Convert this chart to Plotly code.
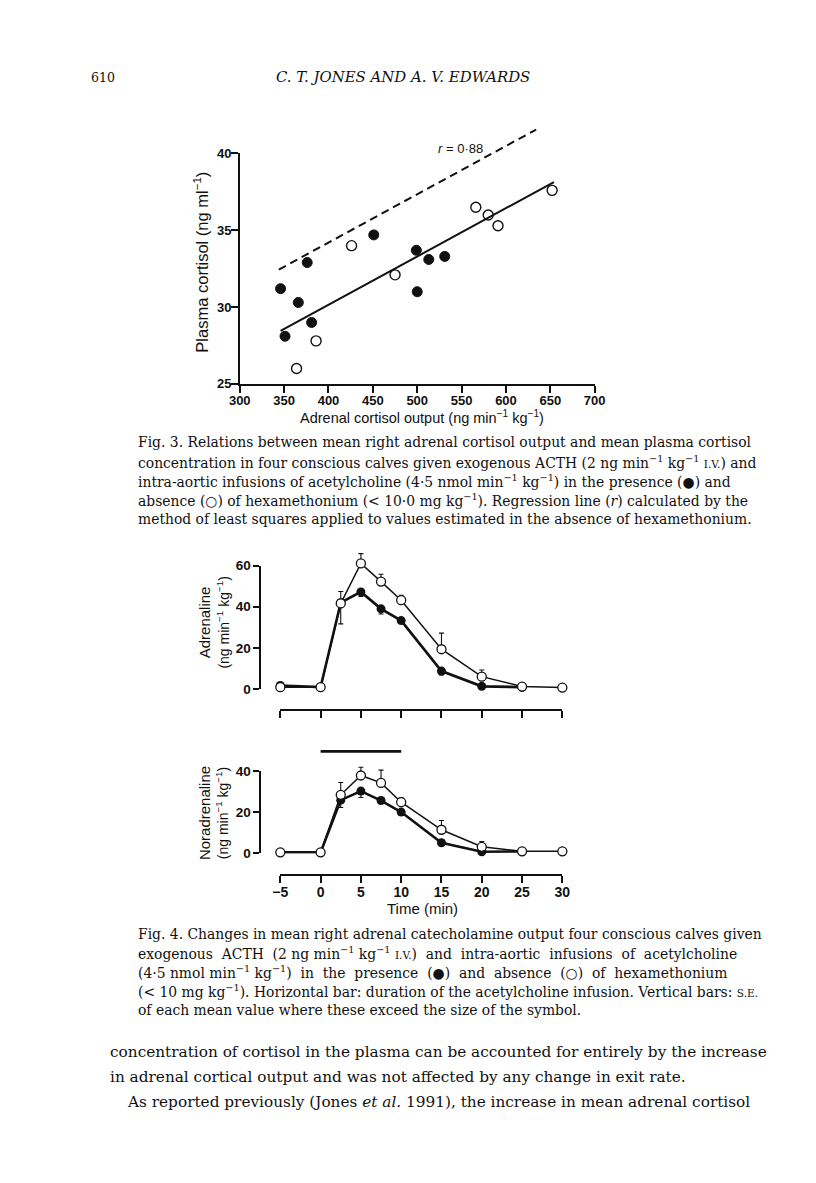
import plotly.graph_objects as go

PAGE_W, PAGE_H = 816, 1183
BODY_MARGIN = 8
W, H = PAGE_W - 2 * BODY_MARGIN, PAGE_H - 2 * BODY_MARGIN


def fx(p):
    return (p - BODY_MARGIN) / W


def fy(p):
    return 1 - (p - BODY_MARGIN) / H


# ---------------- Fig. 3 data ----------------
cortisol_output_hex = [346, 351, 366, 376, 381, 451, 499, 500, 513, 531]
plasma_cortisol_hex = [31.2, 28.1, 30.3, 32.9, 29.0, 34.7, 33.7, 31.0, 33.1, 33.3]
cortisol_output_nohex = [364, 386, 426, 475, 566, 580, 591, 652]
plasma_cortisol_nohex = [26.0, 27.8, 34.0, 32.1, 36.5, 36.0, 35.3, 37.6]
regression_x = [346, 654]
regression_y = [28.45, 38.14]
dashed_x = [344, 634]
dashed_y = [32.44, 41.56]
fig3_xticks = [300, 350, 400, 450, 500, 550, 600, 650, 700]
fig3_yticks = [25, 30, 35, 40]

# ---------------- Fig. 4 data ----------------
time_open = [-5, 0, 2.5, 5, 7.5, 10, 15, 20, 25, 30]
time_filled = [-5, 0, 2.5, 5, 7.5, 10, 15, 20, 25]
adrenaline_open = [1.0, 1.0, 41.6, 61.0, 52.2, 43.2, 19.4, 6.1, 1.3, 0.8]
adrenaline_open_se = [0, 0, 5.8, 4.8, 3.6, 2.4, 7.8, 3.2, 0, 0]
adrenaline_filled = [1.8, 1.0, 42.0, 47.2, 39.0, 33.3, 8.8, 1.4, 1.0]
adrenaline_filled_se = [0, 0, 10.3, 2.2, 2.5, 0, 1.9, 0, 0]
noradrenaline_open = [0.5, 0.5, 28.5, 37.9, 34.3, 24.9, 11.5, 3.2, 1.0, 1.0]
noradrenaline_open_se = [0, 0, 6.0, 4.0, 6.2, 2.1, 4.5, 2.6, 0, 0]
noradrenaline_filled = [0.5, 0.5, 25.9, 30.3, 25.7, 20.1, 5.2, 0.8, 1.0]
noradrenaline_filled_se = [0, 0, 3.6, 3.1, 0, 0, 1.3, 0, 0]
infusion_time = [0, 10]
fig4_xticks = [-5, 0, 5, 10, 15, 20, 25, 30]
fig4_xticklabels = ["\u22125", "0", "5", "10", "15", "20", "25", "30"]
adrenaline_yticks = [0, 20, 40, 60]
noradrenaline_yticks = [0, 20, 40]

SANS = "Liberation Sans"
SERIF = "DejaVu Serif"
BLACK = "#111111"

fig = go.Figure()

# Fig. 3 traces
fig.add_trace(go.Scatter(x=cortisol_output_hex, y=plasma_cortisol_hex, mode="markers",
                         marker=dict(size=10, color=BLACK, line=dict(width=1, color=BLACK)),
                         xaxis="x", yaxis="y", cliponaxis=False, showlegend=False))
fig.add_trace(go.Scatter(x=cortisol_output_nohex, y=plasma_cortisol_nohex, mode="markers",
                         marker=dict(size=10, color="white", line=dict(width=1.4, color=BLACK)),
                         xaxis="x", yaxis="y", cliponaxis=False, showlegend=False))
fig.add_trace(go.Scatter(x=regression_x, y=regression_y, mode="lines",
                         line=dict(width=2, color=BLACK), xaxis="x", yaxis="y", showlegend=False))
fig.add_trace(go.Scatter(x=dashed_x, y=dashed_y, mode="lines",
                         line=dict(width=2, color=BLACK, dash="8px,5px"),
                         xaxis="x2", yaxis="y2", showlegend=False))


def err(plus, minus):
    return dict(type="data", symmetric=False, array=plus, arrayminus=minus,
                width=2.5, thickness=1.1, color=BLACK)


zeros_f = [0] * len(time_filled)
zeros_o = [0] * len(time_open)

# empty traces so the visible Fig. 4 axes are drawn
fig.add_trace(go.Scatter(x=[], y=[], xaxis="x3", yaxis="y3", showlegend=False))
fig.add_trace(go.Scatter(x=[], y=[], xaxis="x4", yaxis="y4", showlegend=False))

# Fig. 4 top (adrenaline) on invisible axes with head-room above 60
fig.add_trace(go.Scatter(x=time_filled, y=adrenaline_filled, mode="lines+markers",
                         line=dict(width=2.6, color=BLACK),
                         marker=dict(size=9, color=BLACK),
                         error_y=err(zeros_f, adrenaline_filled_se),
                         xaxis="x6", yaxis="y6", cliponaxis=False, showlegend=False))
fig.add_trace(go.Scatter(x=time_open, y=adrenaline_open, mode="lines+markers",
                         line=dict(width=1.5, color=BLACK),
                         marker=dict(size=9, color="white", line=dict(width=1.3, color=BLACK)),
                         error_y=err(adrenaline_open_se, zeros_o),
                         xaxis="x6", yaxis="y6", cliponaxis=False, showlegend=False))

# Fig. 4 bottom (noradrenaline) on invisible axes with head-room above 40
fig.add_trace(go.Scatter(x=time_filled, y=noradrenaline_filled, mode="lines+markers",
                         line=dict(width=2.6, color=BLACK),
                         marker=dict(size=9, color=BLACK),
                         error_y=err(zeros_f, noradrenaline_filled_se),
                         xaxis="x5", yaxis="y5", cliponaxis=False, showlegend=False))
fig.add_trace(go.Scatter(x=time_open, y=noradrenaline_open, mode="lines+markers",
                         line=dict(width=1.5, color=BLACK),
                         marker=dict(size=9, color="white", line=dict(width=1.3, color=BLACK)),
                         error_y=err(noradrenaline_open_se, zeros_o),
                         xaxis="x5", yaxis="y5", cliponaxis=False, showlegend=False))

# infusion bar
BAR_LEVEL = 49.6
fig.add_trace(go.Scatter(x=infusion_time, y=[BAR_LEVEL, BAR_LEVEL], mode="lines",
                         line=dict(width=2.6, color=BLACK),
                         xaxis="x5", yaxis="y5", showlegend=False))


def axis_common(size):
    return dict(showgrid=False, zeroline=False, showline=True, linecolor=BLACK,
                linewidth=1.5, ticks="outside", tickcolor=BLACK, tickwidth=1.5,
                tickfont=dict(family=SANS, size=size, color=BLACK, weight="bold"))


# Fig 3 geometry
f3_left, f3_right = 235, 600
f3_bottom, f3_top40 = 381.7, 148.3
px_per_unit3 = (f3_bottom - f3_top40) / 15.0
f3_top_ext = f3_bottom - 17.5 * px_per_unit3

# Fig 4 geometry
f4_left, f4_right = 276.7, 566.7
adr_bottom, adr_top = 691.0, 565.7
adr_ppu = (adr_bottom - adr_top) / 60.0
nor_bottom, nor_top = 857.3, 774.0
nor_ppu = (nor_bottom - nor_top) / 40.0
y_axis4_x = 256

fig.update_layout(
    width=W, height=H, autosize=False,
    margin=dict(l=0, r=0, t=0, b=0, pad=0),
    paper_bgcolor="white", plot_bgcolor="rgba(0,0,0,0)",
    showlegend=False,
    xaxis=dict(axis_common(13), domain=[fx(f3_left), fx(f3_right)], range=[300, 700],
               tickvals=fig3_xticks, ticklen=7, anchor="y", ticklabelstandoff=-3),
    yaxis=dict(axis_common(13), domain=[fy(f3_bottom), fy(f3_top40)], range=[25, 40],
               tickvals=fig3_yticks, ticklen=7, anchor="x", ticklabelstandoff=-3),
    xaxis2=dict(visible=False, domain=[fx(f3_left), fx(f3_right)], range=[300, 700], anchor="y2"),
    yaxis2=dict(visible=False, domain=[fy(f3_bottom), fy(f3_top_ext)], range=[25, 42.5], anchor="x2"),
    xaxis3=dict(axis_common(14), domain=[fx(f4_left), fx(f4_right)], range=[-5, 30],
                tickvals=fig4_xticks, showticklabels=False, ticklen=7,
                anchor="free", position=fy(712.5)),
    yaxis3=dict(axis_common(13.5), domain=[fy(adr_bottom), fy(adr_top)], range=[0, 60],
                tickvals=adrenaline_yticks, ticklen=6, anchor="free", position=fx(y_axis4_x)),
    xaxis4=dict(axis_common(14), domain=[fx(f4_left), fx(f4_right)], range=[-5, 30],
                tickvals=fig4_xticks, ticktext=fig4_xticklabels, ticklen=7,
                anchor="free", position=fy(879.3), ticklabelstandoff=-3),
    yaxis4=dict(axis_common(13.5), domain=[fy(nor_bottom), fy(nor_top)], range=[0, 40],
                tickvals=noradrenaline_yticks, ticklen=6, anchor="free", position=fx(y_axis4_x)),
    xaxis5=dict(visible=False, domain=[fx(f4_left), fx(f4_right)], range=[-5, 30], anchor="y5"),
    yaxis5=dict(visible=False, domain=[fy(nor_bottom), fy(nor_bottom - 52 * nor_ppu)],
                range=[0, 52], anchor="x5"),
    xaxis6=dict(visible=False, domain=[fx(f4_left), fx(f4_right)], range=[-5, 30], anchor="y6"),
    yaxis6=dict(visible=False, domain=[fy(adr_bottom), fy(adr_bottom - 70 * adr_ppu)],
                range=[0, 70], anchor="x6"),
)

ann = []


def text(x, y, s, size, family=SERIF, xanchor="left", angle=0, color=BLACK, weight="normal"):
    ann.append(dict(x=fx(x), y=fy(y), xref="paper", yref="paper", text=s, showarrow=False,
                    xanchor=xanchor, yanchor="middle", textangle=angle,
                    font=dict(family=family, size=size, color=color, weight=weight)))


SUP = "<sup>\u22121</sup>"
SC = '<span style="font-size:10.5px">'
BIG = '<span style="font-size:15px">'

# page header
text(80, 71, "610", 12.5)
text(403, 71, "<i>C. T. JONES AND A. V. EDWARDS</i>", 14.9, xanchor="center")

# Fig 3 labels
text(437, 143, "<i>r</i> = 0\u00b788", 13, family=SANS)
text(195, 258, "Plasma cortisol (ng ml" + SUP + ")", 16.5, family=SANS, xanchor="center", angle=-90)
text(422, 415, "Adrenal cortisol output (ng min" + SUP + " kg" + SUP + ")", 14.5, family=SANS,
     xanchor="center")

# Fig 3 caption
cap3 = [
    "Fig. 3. Relations between mean right adrenal cortisol output and mean plasma cortisol",
    "concentration in four conscious calves given exogenous ACTH (2 ng min" + SUP + " kg" + SUP
    + " " + SC + "I.V.</span>) and",
    "intra-aortic infusions of acetylcholine (4\u00b75 nmol min" + SUP + " kg" + SUP
    + ") in the presence (\u25cf) and",
    "absence (\u25cb) of hexamethonium (< 10\u00b70 mg kg" + SUP
    + "). Regression line (<i>r</i>) calculated by the",
    "method of least squares applied to values estimated in the absence of hexamethonium.",
]
for i, line in enumerate(cap3):
    text(128, 441 + i * 19.5, line, 13.9)

# Fig 4 labels
text(208, 624, BIG + "Adrenaline</span><br>(ng min" + SUP + " kg" + SUP + ")", 14, family=SANS,
     xanchor="center", angle=-90)
text(208, 817, BIG + "Noradrenaline</span><br>(ng min" + SUP + " kg" + SUP + ")", 14, family=SANS,
     xanchor="center", angle=-90)
text(423, 913, "Time (min)", 15, family=SANS, xanchor="center")

cap4 = [
    "Fig. 4. Changes in mean right adrenal catecholamine output four conscious calves given",
    "exogenous  ACTH  (2 ng min" + SUP + " kg" + SUP + " " + SC
    + "I.V.</span>)  and  intra-aortic  infusions  of  acetylcholine",
    "(4\u00b75 nmol min" + SUP + " kg" + SUP
    + ")  in  the  presence  (\u25cf)  and  absence  (\u25cb)  of  hexamethonium",
    "(< 10 mg kg" + SUP + "). Horizontal bar: duration of the acetylcholine infusion. Vertical bars: "
    + SC + "S.E.</span>",
    "of each mean value where these exceed the size of the symbol.",
]
for i, line in enumerate(cap4):
    text(128, 939 + i * 19.3, line, 13.9)

# body text
body = [
    (100, "concentration of cortisol in the plasma can be accounted for entirely by the increase"),
    (100, "in adrenal cortical output and was not affected by any change in exit rate."),
    (117, "As reported previously (Jones <i>et al.</i> 1991), the increase in mean adrenal cortisol"),
]
for i, (x0, line) in enumerate(body):
    text(x0, 1058 + i * 25.5, line, 15.3)

fig.update_layout(annotations=ann)

fig.write_html("out.html", config={"displayModeBar": False})
